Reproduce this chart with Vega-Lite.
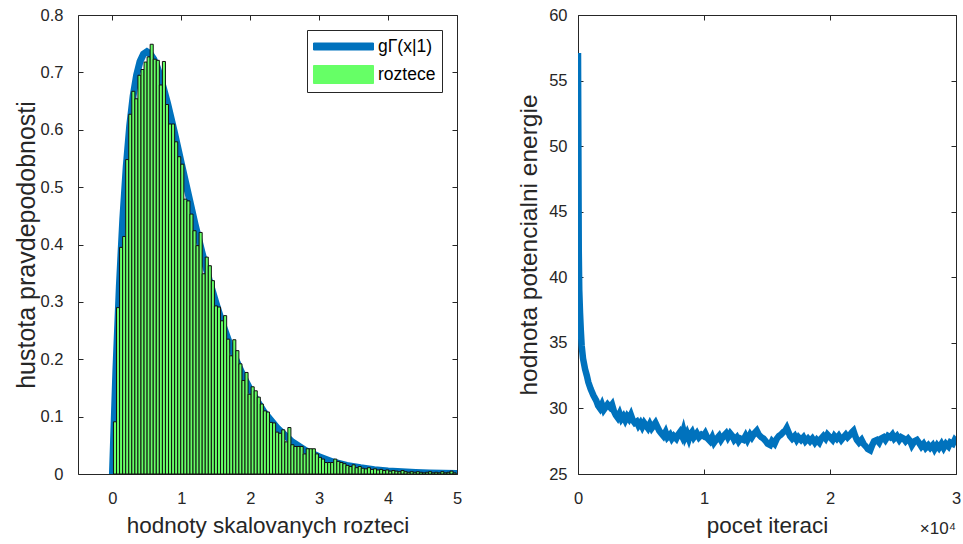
{
  "$schema": "https://vega.github.io/schema/vega-lite/v6.json",
  "background": "white",
  "padding": {"left": 13, "top": 6, "right": 5, "bottom": 5},
  "bounds": "flush",
  "spacing": 121,
  "resolve": {"scale": {"color": "independent"}, "legend": {"color": "independent"}},
  "datasets": {
    "hist": [
      {"a":0.0145,"b":0.0589,"h":0.091},{"a":0.0589,"b":0.1033,"h":0.290},{"a":0.1033,"b":0.1477,"h":0.395},{"a":0.1477,"b":0.1921,"h":0.414},
      {"a":0.1921,"b":0.2365,"h":0.548},{"a":0.2365,"b":0.2809,"h":0.627},{"a":0.2809,"b":0.3253,"h":0.667},{"a":0.3253,"b":0.3697,"h":0.654},
      {"a":0.3697,"b":0.4141,"h":0.695},{"a":0.4141,"b":0.4585,"h":0.705},{"a":0.4585,"b":0.5029,"h":0.718},{"a":0.5029,"b":0.5473,"h":0.727},
      {"a":0.5473,"b":0.5917,"h":0.749},{"a":0.5917,"b":0.6361,"h":0.723},{"a":0.6361,"b":0.6805,"h":0.721},{"a":0.6805,"b":0.7249,"h":0.678},
      {"a":0.7249,"b":0.7693,"h":0.719},{"a":0.7693,"b":0.8137,"h":0.644},{"a":0.8137,"b":0.8581,"h":0.610},{"a":0.8581,"b":0.9025,"h":0.610},
      {"a":0.9025,"b":0.9469,"h":0.579},{"a":0.9469,"b":0.9913,"h":0.553},{"a":0.9913,"b":1.0357,"h":0.540},{"a":1.0357,"b":1.0801,"h":0.479},
      {"a":1.0801,"b":1.1245,"h":0.476},{"a":1.1245,"b":1.1689,"h":0.453},{"a":1.1689,"b":1.2133,"h":0.424},{"a":1.2133,"b":1.2577,"h":0.398},
      {"a":1.2577,"b":1.3021,"h":0.421},{"a":1.3021,"b":1.3465,"h":0.349},{"a":1.3465,"b":1.3909,"h":0.378},{"a":1.3909,"b":1.4353,"h":0.363},
      {"a":1.4353,"b":1.4797,"h":0.337},{"a":1.4797,"b":1.5241,"h":0.293},{"a":1.5241,"b":1.5685,"h":0.291},{"a":1.5685,"b":1.6129,"h":0.267},
      {"a":1.6129,"b":1.6573,"h":0.276},{"a":1.6573,"b":1.7017,"h":0.235},{"a":1.7017,"b":1.7461,"h":0.206},{"a":1.7461,"b":1.7905,"h":0.234},
      {"a":1.7905,"b":1.8349,"h":0.215},{"a":1.8349,"b":1.8793,"h":0.192},{"a":1.8793,"b":1.9237,"h":0.163},{"a":1.9237,"b":1.9681,"h":0.177},
      {"a":1.9681,"b":2.0125,"h":0.139},{"a":2.0125,"b":2.0569,"h":0.152},{"a":2.0569,"b":2.1013,"h":0.145},{"a":2.1013,"b":2.1457,"h":0.134},
      {"a":2.1457,"b":2.1901,"h":0.122},{"a":2.1901,"b":2.2345,"h":0.110},{"a":2.2345,"b":2.2789,"h":0.108},{"a":2.2789,"b":2.3233,"h":0.090},
      {"a":2.3233,"b":2.3677,"h":0.089},{"a":2.3677,"b":2.4121,"h":0.073},{"a":2.4121,"b":2.4565,"h":0.071},{"a":2.4565,"b":2.5009,"h":0.077},
      {"a":2.5009,"b":2.5453,"h":0.056},{"a":2.5453,"b":2.5897,"h":0.081},{"a":2.5897,"b":2.6341,"h":0.051},{"a":2.6341,"b":2.6785,"h":0.048},
      {"a":2.6785,"b":2.7229,"h":0.048},{"a":2.7229,"b":2.7673,"h":0.048},{"a":2.7673,"b":2.8117,"h":0.035},{"a":2.8117,"b":2.8561,"h":0.044},
      {"a":2.8561,"b":2.9005,"h":0.044},{"a":2.9005,"b":2.9449,"h":0.044},{"a":2.9449,"b":2.9893,"h":0.035},{"a":2.9893,"b":3.0337,"h":0.029},
      {"a":3.0337,"b":3.0781,"h":0.026},{"a":3.0781,"b":3.1225,"h":0.020},{"a":3.1225,"b":3.1669,"h":0.020},{"a":3.1669,"b":3.2113,"h":0.020},
      {"a":3.2113,"b":3.2557,"h":0.026},{"a":3.2557,"b":3.3001,"h":0.022},{"a":3.3001,"b":3.3445,"h":0.020},{"a":3.3445,"b":3.3889,"h":0.018},
      {"a":3.3889,"b":3.4333,"h":0.015},{"a":3.4333,"b":3.4777,"h":0.013},{"a":3.4777,"b":3.5221,"h":0.016},{"a":3.5221,"b":3.5665,"h":0.011},
      {"a":3.5665,"b":3.6109,"h":0.013},{"a":3.6109,"b":3.6553,"h":0.010},{"a":3.6553,"b":3.6997,"h":0.009},{"a":3.6997,"b":3.7441,"h":0.011},
      {"a":3.7441,"b":3.7885,"h":0.008},{"a":3.7885,"b":3.8329,"h":0.009},{"a":3.8329,"b":3.8773,"h":0.007},{"a":3.8773,"b":3.9217,"h":0.008},
      {"a":3.9217,"b":3.9661,"h":0.006},{"a":3.9661,"b":4.0105,"h":0.007},{"a":4.0105,"b":4.0549,"h":0.005},{"a":4.0549,"b":4.0993,"h":0.006},
      {"a":4.0993,"b":4.1437,"h":0.005},{"a":4.1437,"b":4.1881,"h":0.004},{"a":4.1881,"b":4.2325,"h":0.006},{"a":4.2325,"b":4.2769,"h":0.004},
      {"a":4.2769,"b":4.3213,"h":0.003},{"a":4.3213,"b":4.3657,"h":0.004},{"a":4.3657,"b":4.4101,"h":0.003},{"a":4.4101,"b":4.4545,"h":0.004},
      {"a":4.4545,"b":4.4989,"h":0.003},{"a":4.4989,"b":4.5433,"h":0.002},{"a":4.5433,"b":4.5877,"h":0.003},{"a":4.5877,"b":4.6321,"h":0.004},
      {"a":4.6321,"b":4.6765,"h":0.002},{"a":4.6765,"b":4.7209,"h":0.003},{"a":4.7209,"b":4.7653,"h":0.002},{"a":4.7653,"b":4.8097,"h":0.004},
      {"a":4.8097,"b":4.8541,"h":0.002},{"a":4.8541,"b":4.8985,"h":0.003},{"a":4.8985,"b":4.9429,"h":0.005},{"a":4.9429,"b":4.9873,"h":0.002}
    ],
    "curve": [
      {"x":0,"g":0},{"x":0.05,"g":0.181},{"x":0.1,"g":0.327},{"x":0.15,"g":0.444},{"x":0.2,"g":0.536},{"x":0.25,"g":0.607},
      {"x":0.3,"g":0.659},{"x":0.35,"g":0.695},{"x":0.4,"g":0.719},{"x":0.45,"g":0.732},{"x":0.5,"g":0.736},{"x":0.55,"g":0.732},
      {"x":0.6,"g":0.723},{"x":0.65,"g":0.709},{"x":0.7,"g":0.690},{"x":0.8,"g":0.646},{"x":0.9,"g":0.595},{"x":1.0,"g":0.541},
      {"x":1.1,"g":0.488},{"x":1.2,"g":0.435},{"x":1.3,"g":0.386},{"x":1.4,"g":0.340},{"x":1.5,"g":0.299},{"x":1.6,"g":0.261},
      {"x":1.7,"g":0.227},{"x":1.8,"g":0.197},{"x":1.9,"g":0.170},{"x":2.0,"g":0.147},{"x":2.2,"g":0.108},{"x":2.4,"g":0.079},
      {"x":2.6,"g":0.057},{"x":2.8,"g":0.041},{"x":3.0,"g":0.030},{"x":3.2,"g":0.021},{"x":3.4,"g":0.015},{"x":3.6,"g":0.011},
      {"x":3.8,"g":0.0076},{"x":4.0,"g":0.0054},{"x":4.2,"g":0.0038},{"x":4.4,"g":0.0027},{"x":4.6,"g":0.0019},{"x":4.8,"g":0.0013},
      {"x":5.0,"g":0.0009}
    ],
    "energy": [
      {"it":0,"e":57.1},{"it":20,"e":52},{"it":40,"e":47},{"it":60,"e":42},{"it":100,"e":39},{"it":160,"e":37.3},{"it":220,"e":36},
      {"it":290,"e":34.8},{"it":400,"e":33.8},{"it":560,"e":33.0},{"it":700,"e":32.5},{"it":820,"e":32.0},{"it":1000,"e":31.5},
      {"it":1220,"e":31.0},{"it":1450,"e":30.6},{"it":1600,"e":30.2},{"it":1750,"e":30.0},{"it":1900,"e":30.3},{"it":2050,"e":29.9},
      {"it":2200,"e":30.1},{"it":2350,"e":30.3},{"it":2540,"e":30.1},{"it":2700,"e":30.3},{"it":2850,"e":29.8},{"it":3000,"e":29.5},
      {"it":3150,"e":29.3},{"it":3300,"e":29.6},{"it":3450,"e":29.2},{"it":3600,"e":29.4},{"it":3750,"e":29.1},{"it":3900,"e":29.4},
      {"it":4050,"e":29.2},{"it":4200,"e":29.5},{"it":4350,"e":29.1},{"it":4500,"e":28.9},{"it":4660,"e":29.0},{"it":4800,"e":28.7},
      {"it":4950,"e":28.9},{"it":5100,"e":28.6},{"it":5250,"e":28.9},{"it":5400,"e":28.7},{"it":5550,"e":28.5},{"it":5700,"e":28.8},
      {"it":5850,"e":28.5},{"it":6000,"e":28.7},{"it":6150,"e":28.9},{"it":6300,"e":28.6},{"it":6450,"e":28.3},{"it":6600,"e":28.1},
      {"it":6780,"e":27.9},{"it":6950,"e":28.2},{"it":7100,"e":27.8},{"it":7300,"e":28.0},{"it":7450,"e":27.7},{"it":7600,"e":27.9},
      {"it":7800,"e":27.7},{"it":7950,"e":28.0},{"it":8100,"e":28.2},{"it":8250,"e":27.9},{"it":8370,"e":28.3},{"it":8500,"e":27.8},
      {"it":8650,"e":28.1},{"it":8800,"e":27.7},{"it":8900,"e":28.0},{"it":9050,"e":28.2},{"it":9200,"e":27.8},{"it":9430,"e":28.1},
      {"it":9600,"e":27.8},{"it":9800,"e":28.0},{"it":9960,"e":27.9},{"it":10100,"e":28.1},{"it":10300,"e":27.7},{"it":10490,"e":27.5},
      {"it":10650,"e":27.8},{"it":10800,"e":27.4},{"it":11020,"e":27.7},{"it":11200,"e":27.9},{"it":11350,"e":27.6},{"it":11550,"e":27.9},
      {"it":11750,"e":28.1},{"it":11900,"e":27.8},{"it":12080,"e":28.1},{"it":12250,"e":27.9},{"it":12400,"e":27.6},{"it":12600,"e":27.8},
      {"it":12750,"e":27.5},{"it":12900,"e":27.7},{"it":13130,"e":27.6},{"it":13300,"e":27.9},{"it":13450,"e":27.6},{"it":13660,"e":28.0},
      {"it":13800,"e":27.8},{"it":14000,"e":28.1},{"it":14190,"e":28.3},{"it":14350,"e":28.0},{"it":14550,"e":27.8},{"it":14720,"e":27.7},
      {"it":14900,"e":27.5},{"it":15050,"e":27.3},{"it":15250,"e":27.2},{"it":15400,"e":27.5},{"it":15600,"e":27.3},{"it":15780,"e":27.7},
      {"it":15950,"e":27.9},{"it":16100,"e":28.0},{"it":16300,"e":28.2},{"it":16450,"e":28.3},{"it":16570,"e":28.5},{"it":16700,"e":28.2},
      {"it":16830,"e":27.9},{"it":17000,"e":27.7},{"it":17200,"e":27.9},{"it":17360,"e":27.6},{"it":17500,"e":27.8},{"it":17700,"e":27.6},
      {"it":17890,"e":27.8},{"it":18050,"e":27.5},{"it":18250,"e":27.7},{"it":18420,"e":27.5},{"it":18600,"e":27.7},{"it":18800,"e":27.4},
      {"it":18950,"e":27.6},{"it":19150,"e":27.4},{"it":19300,"e":27.7},{"it":19480,"e":27.9},{"it":19650,"e":27.7},{"it":19800,"e":28.0},
      {"it":20000,"e":27.8},{"it":20200,"e":27.6},{"it":20350,"e":27.9},{"it":20540,"e":27.7},{"it":20700,"e":27.9},{"it":20900,"e":27.6},
      {"it":21070,"e":27.8},{"it":21250,"e":28.0},{"it":21400,"e":27.8},{"it":21600,"e":28.0},{"it":21750,"e":28.2},{"it":21860,"e":28.3},
      {"it":22000,"e":27.9},{"it":22130,"e":27.6},{"it":22300,"e":27.4},{"it":22500,"e":27.6},{"it":22660,"e":27.3},{"it":22850,"e":27.1},
      {"it":23000,"e":26.9},{"it":23190,"e":26.8},{"it":23350,"e":27.2},{"it":23500,"e":27.5},{"it":23720,"e":27.6},{"it":23900,"e":27.4},
      {"it":24050,"e":27.7},{"it":24250,"e":27.8},{"it":24400,"e":27.6},{"it":24600,"e":27.9},{"it":24780,"e":27.8},{"it":24950,"e":28.0},
      {"it":25100,"e":27.7},{"it":25310,"e":27.9},{"it":25500,"e":27.6},{"it":25650,"e":27.8},{"it":25840,"e":27.7},{"it":26000,"e":27.5},
      {"it":26200,"e":27.7},{"it":26370,"e":27.5},{"it":26500,"e":27.2},{"it":26700,"e":27.5},{"it":26900,"e":27.6},{"it":27050,"e":27.4},
      {"it":27250,"e":27.1},{"it":27430,"e":27.3},{"it":27600,"e":27.0},{"it":27800,"e":27.2},{"it":27960,"e":27.0},{"it":28150,"e":27.2},
      {"it":28300,"e":26.9},{"it":28490,"e":27.2},{"it":28650,"e":27.0},{"it":28850,"e":27.3},{"it":29020,"e":27.0},{"it":29200,"e":27.3},
      {"it":29400,"e":27.1},{"it":29550,"e":27.4},{"it":29750,"e":27.3},{"it":29900,"e":27.6},{"it":30000,"e":27.5}
    ]
  },
  "hconcat": [
    {
      "width": 379,
      "height": 459,
      "resolve": {"axis": {"x": "independent", "y": "independent"}},
      "layer": [
        {
          "data": {"name": "curve"},
          "mark": {"type": "line", "strokeWidth": 7, "clip": true},
          "encoding": {
            "x": {"field": "x", "type": "quantitative", "scale": {"domain": [-0.5, 5], "nice": false, "zero": false},
                  "axis": {"orient": "bottom", "values": [0, 1, 2, 3, 4, 5], "title": "hodnoty skalovanych rozteci", "labelPadding": 21, "titlePadding": 8, "titleFontSize": 22.5}},
            "y": {"field": "g", "type": "quantitative", "scale": {"domain": [0, 0.8], "nice": false},
                  "axis": {"orient": "left", "values": [0, 0.1, 0.2, 0.3, 0.4, 0.5, 0.6, 0.7, 0.8], "format": "~g", "title": "hustota pravdepodobnosti", "labelPadding": 20, "titlePadding": 1, "titleFontSize": 25}},
            "color": {"datum": "gΓ(x|1)", "type": "nominal",
              "scale": {"domain": ["gΓ(x|1)", "roztece"], "range": ["#0072BD", "#66FF66"]},
              "legend": {
                "title": null, "orient": "top-right", "offset": 15,
                "strokeColor": "#262626", "fillColor": "white", "padding": 6,
                "labelFontSize": 17.5, "labelColor": "#000000", "labelFont": "Liberation Sans",
                "symbolSize": 400, "symbolOffset": 20, "labelOffset": 24, "rowPadding": 8,
                "encode": {
                  "symbols": {"update": {
                    "shape": {"signal": "datum.value === 'roztece' ? 'M-3,-0.9H3V0.9H-3Z' : 'M-3,-0.35H3V0.35H-3Z'"},
                    "size": {"value": 400},
                    "fill": {"signal": "datum.value === 'roztece' ? '#66FF66' : '#0072BD'"},
                    "stroke": {"signal": "datum.value === 'roztece' ? '#000000' : '#0072BD'"},
                    "strokeWidth": {"value": 1},
                    "opacity": {"value": 1},
                    "fillOpacity": {"value": 1},
                    "strokeOpacity": {"value": 1}
                  }}
                }
              }}
          }
        },
        {
          "data": {"name": "hist"},
          "mark": {"type": "bar", "stroke": "#111111", "strokeWidth": 1, "opacity": 1},
          "encoding": {
            "x": {"field": "a", "type": "quantitative", "axis": null},
            "x2": {"field": "b"},
            "y": {"field": "h", "type": "quantitative", "axis": null},
            "y2": {"datum": 0},
            "color": {"datum": "roztece", "type": "nominal"}
          }
        },
        {
          "data": {"name": "curve"},
          "mark": {"type": "point", "opacity": 0},
          "encoding": {
            "x": {"field": "x", "type": "quantitative", "axis": {"orient": "top", "values": [0, 1, 2, 3, 4, 5], "labels": false, "title": null}},
            "y": {"field": "g", "type": "quantitative", "axis": {"orient": "right", "values": [0, 0.1, 0.2, 0.3, 0.4, 0.5, 0.6, 0.7, 0.8], "labels": false, "title": null}}
          }
        }
      ]
    },
    {
      "width": 378,
      "height": 459,
      "resolve": {"axis": {"x": "independent", "y": "independent"}},
      "layer": [
        {
          "data": {"name": "energy"},
          "mark": {"type": "line", "strokeWidth": 6.5, "color": "#0072BD", "clip": true},
          "encoding": {
            "x": {"field": "it", "type": "quantitative", "scale": {"domain": [0, 30000], "nice": false},
                  "axis": {"orient": "bottom", "values": [0, 10000, 20000, 30000], "labelExpr": "datum.value / 10000", "title": "pocet iteraci", "labelPadding": 21, "titlePadding": 8, "titleFontSize": 22.5}},
            "y": {"field": "e", "type": "quantitative", "scale": {"domain": [25, 60], "nice": false, "zero": false},
                  "axis": {"orient": "left", "values": [25, 30, 35, 40, 45, 50, 55, 60], "title": "hodnota potencialni energie", "labelPadding": 16, "titlePadding": 7, "titleFontSize": 24.5}}
          }
        },
        {
          "data": {"values": [{"t": "×10⁴"}]},
          "mark": {"type": "text", "align": "right", "baseline": "middle", "dy": 55, "fontSize": 17, "color": "#262626", "font": "Liberation Sans"},
          "encoding": {
            "x": {"datum": 30000, "type": "quantitative", "axis": null},
            "y": {"datum": 25, "type": "quantitative", "axis": null},
            "text": {"field": "t"}
          }
        },
        {
          "data": {"name": "energy"},
          "mark": {"type": "point", "opacity": 0},
          "encoding": {
            "x": {"field": "it", "type": "quantitative", "axis": {"orient": "top", "values": [0, 10000, 20000, 30000], "labels": false, "title": null}},
            "y": {"field": "e", "type": "quantitative", "axis": {"orient": "right", "values": [25, 30, 35, 40, 45, 50, 55, 60], "labels": false, "title": null}}
          }
        }
      ]
    }
  ],
  "config": {
    "font": "Liberation Sans",
    "view": {"stroke": "#262626", "strokeWidth": 1},
    "axis": {
      "domain": false, "grid": false,
      "tickSize": -5, "tickColor": "#262626", "tickWidth": 1,
      "labelFont": "Liberation Sans", "labelFontSize": 16.5, "labelColor": "#262626",
      "titleFont": "Liberation Sans", "titleFontSize": 22, "titleColor": "#262626", "titleFontWeight": "normal",
      "labelFlush": false, "labelOverlap": false
    }
  }
}
